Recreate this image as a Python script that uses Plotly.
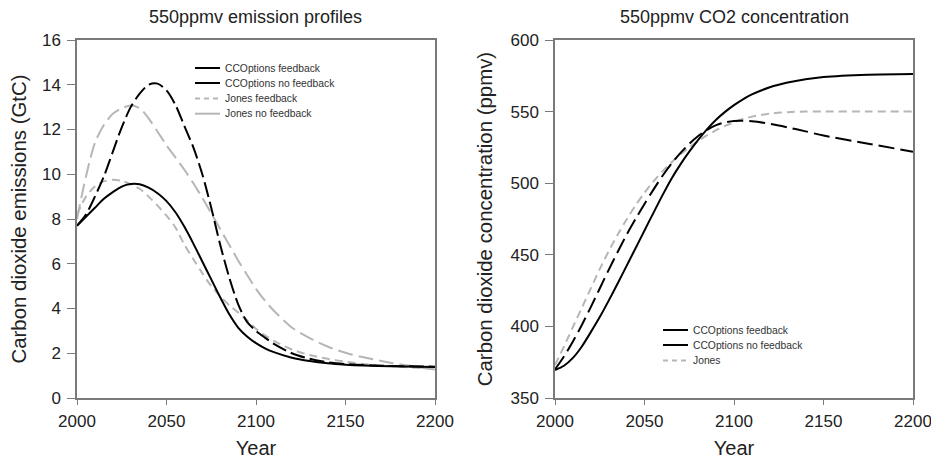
import plotly.graph_objects as go

# ---- Left panel: emissions (GtC) ----
years_e = [2000, 2005, 2010, 2015, 2020, 2025, 2030, 2035, 2040, 2045, 2050, 2055, 2060, 2065, 2070, 2075,
           2080, 2085, 2090, 2095, 2100, 2105, 2110, 2120, 2130, 2140, 2150, 2160, 2175, 2200]
cco_fb_e = [7.7, 8.1, 8.5, 8.9, 9.2, 9.45, 9.56, 9.55, 9.4, 9.15, 8.8, 8.3, 7.65, 6.9, 6.1, 5.3,
            4.5, 3.75, 3.15, 2.75, 2.45, 2.22, 2.05, 1.8, 1.65, 1.55, 1.49, 1.45, 1.42, 1.38]
cco_nofb_e = [7.7, 8.2, 9.0, 9.9, 11.0, 12.1, 13.0, 13.6, 14.0, 14.05, 13.75, 13.1, 12.15, 11.2, 10.0, 8.5,
              6.85, 5.4, 4.2, 3.4, 3.0, 2.7, 2.42, 2.0, 1.75, 1.6, 1.52, 1.47, 1.43, 1.4]
jones_nofb_e = [8.0, 9.9, 11.4, 12.2, 12.7, 12.95, 13.07, 12.95, 12.5, 11.9, 11.3, 10.75, 10.2, 9.6, 8.95, 8.25,
                7.55, 6.85, 6.15, 5.5, 4.88, 4.35, 3.9, 3.15, 2.68, 2.3, 2.02, 1.82, 1.58, 1.27]
jones_fb_e = [8.2, 9.0, 9.45, 9.68, 9.75, 9.7, 9.55, 9.35, 9.0, 8.6, 8.15, 7.62, 6.85, 6.2, 5.58, 5.0,
              4.55, 4.15, 3.82, 3.48, 3.1, 2.8, 2.55, 2.17, 1.92, 1.75, 1.62, 1.52, 1.43, 1.3]

# ---- Right panel: concentration (ppmv) ----
years_c = [2000, 2005, 2010, 2015, 2020, 2025, 2030, 2035, 2040, 2045, 2050, 2055, 2060, 2065, 2070, 2075,
           2080, 2085, 2090, 2095, 2100, 2105, 2110, 2120, 2130, 2140, 2150, 2175, 2200]
cco_fb_c = [369.5, 372.5, 378, 386, 396, 406.5, 418, 430, 442.3, 454.6, 467, 479.3, 491.5, 503, 513, 522,
            530.3, 537.8, 544.3, 549.8, 554.5, 558.6, 562, 567, 570.3, 572.6, 574.2, 575.8, 576.3]
cco_nofb_c = [370, 379, 389.5, 401, 413.5, 426.5, 439.5, 452, 464, 475, 485.5, 495.5, 505, 513.5, 521, 527.5,
              533, 537.3, 540.5, 542.5, 543.5, 543.6, 543.2, 541.5, 539, 536.2, 533.3, 527.6, 522]
jones_c = [373, 386, 399.5, 413, 426.5, 440, 452.5, 464, 474.7, 484.5, 493.3, 501.2, 508.3, 514.5, 520, 525,
           529.5, 533.5, 537, 540, 542.6, 544.8, 546.5, 548.6, 549.6, 550, 550, 550, 550]

titles = ["550ppmv emission profiles", "550ppmv CO2 concentration"]
x_ticks = [2000, 2050, 2100, 2150, 2200]
e_ticks = [0, 2, 4, 6, 8, 10, 12, 14, 16]
c_ticks = [350, 400, 450, 500, 550, 600]

# legend content as drawn in the reference
leg_left_names = ["CCOptions feedback", "CCOptions no feedback", "Jones feedback", "Jones no feedback"]
leg_right_names = ["CCOptions feedback", "CCOptions no feedback", "Jones"]

FONT = "Liberation Sans, Arial, sans-serif"
GRAY = "#b6b6b6"
TXT = "#222"
AX = "#7a7a7a"

leg_left_styles = [("black", "solid"), ("black", "solid"), (GRAY, "dash"), (GRAY, "solid")]
leg_right_styles = [("black", "solid"), ("black", "solid"), (GRAY, "dash")]

fig = go.Figure()

def add(x, y, color, dash, xa, ya, name):
    fig.add_trace(go.Scatter(x=x, y=y, mode="lines", name=name,
                             line=dict(color=color, width=2, dash=dash, shape="spline", smoothing=0.8),
                             xaxis=xa, yaxis=ya, showlegend=False))

add(years_e, jones_fb_e, GRAY, "8px,5px", "x", "y", "Jones feedback")
add(years_e, jones_nofb_e, GRAY, "15px,6px", "x", "y", "Jones no feedback")
add(years_e, cco_nofb_e, "black", "15px,5px", "x", "y", "CCOptions no feedback")
add(years_e, cco_fb_e, "black", "solid", "x", "y", "CCOptions feedback")

add(years_c, jones_c, GRAY, "8px,5px", "x2", "y2", "Jones")
add(years_c, cco_nofb_c, "black", "16px,6px", "x2", "y2", "CCOptions no feedback")
add(years_c, cco_fb_c, "black", "solid", "x2", "y2", "CCOptions feedback")

# page body has an 8px margin: size the figure to fill the window and map window pixels to paper
OFF = 8
W, H = 939 - OFF, 462 - OFF

def px(x):
    return (x - OFF) / W

def py(y):
    return 1 - (y - OFF) / H

PX_L = (77, 435)
PX_R = (555, 913)
PY = (40, 398)
ydom = [py(PY[1]), py(PY[0])]

axis_common = dict(showline=True, linecolor=AX, linewidth=1.5, mirror=True, ticks="outside",
                   tickcolor=AX, tickwidth=1.2, showgrid=False, zeroline=False, automargin=False,
                   tickfont=dict(size=17, color=TXT, family=FONT))

shapes = []
annotations = []

def manual_legend(names, styles, x0, x1, ys):
    for name, (col, dash), yy in zip(names, styles, ys):
        d = "solid" if dash == "solid" else "5px,4px"
        shapes.append(dict(type="line", xref="paper", yref="paper", x0=px(x0), x1=px(x1),
                           y0=py(yy), y1=py(yy), line=dict(color=col, width=2, dash=d)))
        annotations.append(dict(text=name, x=px(x1 + 3), y=py(yy), xref="paper", yref="paper",
                                showarrow=False, xanchor="left", yanchor="middle",
                                font=dict(size=10.3, color="#333", family=FONT)))

manual_legend(leg_left_names, leg_left_styles, 195, 220, [68, 83, 98.5, 113.7])
manual_legend(leg_right_names, leg_right_styles, 663, 688, [330, 345, 360.5])

for t, (a, b) in zip(titles, [PX_L, PX_R]):
    annotations.append(dict(text=t, x=px((a + b) / 2), y=py(17), xref="paper", yref="paper",
                            showarrow=False, font=dict(size=18, color=TXT, family=FONT),
                            xanchor="center", yanchor="middle"))

fig.update_layout(
    width=W, height=H, margin=dict(l=0, r=0, t=0, b=0, autoexpand=False),
    paper_bgcolor="white", plot_bgcolor="white", showlegend=False,
    font=dict(family=FONT, color=TXT),
    xaxis=dict(domain=[px(PX_L[0]), px(PX_L[1])], range=[2000, 2200], tickvals=x_ticks,
               ticklen=5, ticklabelstandoff=2,
               title=dict(text="Year", font=dict(size=20), standoff=11), anchor="y", **axis_common),
    yaxis=dict(domain=ydom, range=[0, 16], tickvals=e_ticks, ticklen=8, ticklabelstandoff=3,
               title=dict(text="Carbon dioxide emissions (GtC)", font=dict(size=20.4), standoff=14),
               anchor="x", **axis_common),
    xaxis2=dict(domain=[px(PX_R[0]), px(PX_R[1])], range=[2000, 2200], tickvals=x_ticks,
                ticklen=5, ticklabelstandoff=2,
                title=dict(text="Year", font=dict(size=20), standoff=11), anchor="y2", **axis_common),
    yaxis2=dict(domain=ydom, range=[350, 600], tickvals=c_ticks, ticklen=8, ticklabelstandoff=3,
                title=dict(text="Carbon dioxide concentration (ppmv)", font=dict(size=20.4), standoff=12),
                anchor="x2", **axis_common),
    shapes=shapes,
    annotations=annotations,
)

fig.write_html("out.html")
